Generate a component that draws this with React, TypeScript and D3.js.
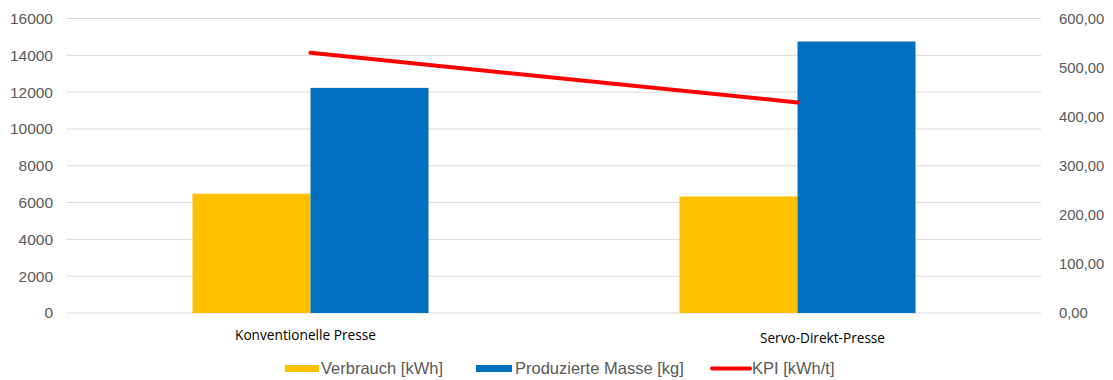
import React from "react";
import * as d3 from "d3";

const categories = ["Konventionelle Presse", "Servo-Direkt-Presse"];
const verbrauch = [6480, 6330];
const masse = [12230, 14750];
const kpi = [530, 429];
const leftTicks = [0, 2000, 4000, 6000, 8000, 10000, 12000, 14000, 16000];
const rightTicks = [0, 100, 200, 300, 400, 500, 600];
const seriesNames = ["Verbrauch [kWh]", "Produzierte Masse [kg]", "KPI [kWh/t]"];

const W = 1113;
const H = 380;
const plot = { left: 67, right: 1041, top: 18.5, bottom: 313 };
const colors = { verbrauch: "#FFC000", masse: "#0070C0", kpi: "#FF0000" };
const labelFont = "'Liberation Sans', Arial, sans-serif";

export default function App() {
  const x0 = d3.scaleBand<string>().domain(categories).range([plot.left, plot.right]).padding(0);
  const bw = x0.bandwidth();
  const gw = bw * (236 / 487);
  const x1 = d3
    .scaleBand<string>()
    .domain(["v", "m"])
    .range([bw / 2 - gw / 2, bw / 2 + gw / 2])
    .padding(0);
  const y = d3.scaleLinear().domain([0, 16000]).range([plot.bottom, plot.top]);
  const y2 = d3.scaleLinear().domain([0, 600]).range([plot.bottom, plot.top]);
  const fmt2 = (v: number) => d3.format(".2f")(v).replace(".", ",");

  const line = d3
    .line<number>()
    .x((_, i) => (x0(categories[i]) as number) + bw / 2)
    .y((d) => y2(d));

  const catLabelPos = [
    { cx: 305.5, y: 340, w: 141 },
    { cx: 822.5, y: 343, w: 125 },
  ];

  const legendY = 368.5;
  const legendItems = [
    { name: seriesNames[0], type: "rect", color: colors.verbrauch, x0: 285, x1: 319, tx: 321 },
    { name: seriesNames[1], type: "rect", color: colors.masse, x0: 476, x1: 512, tx: 515 },
    { name: seriesNames[2], type: "line", color: colors.kpi, x0: 712, x1: 750, tx: 752 },
  ];

  return (
    <svg width={W} height={H} style={{ position: "absolute", left: 0, top: 0, background: "#fff" }}>
      <rect x={0} y={0} width={W} height={H} fill="#fff" />
      {leftTicks.map((t) => (
        <g key={"g" + t}>
          <line x1={plot.left} x2={plot.right} y1={y(t)} y2={y(t)} stroke="#D9D9D9" strokeWidth={1} />
          <text
            x={53}
            y={y(t)}
            dy="0.35em"
            textAnchor="end"
            fontFamily={labelFont}
            fontSize={15.5}
            fill="#595959"
          >
            {t}
          </text>
        </g>
      ))}
      {rightTicks.map((t) => (
        <text
          key={"r" + t}
          x={1059}
          y={y2(t)}
          dy="0.35em"
          textAnchor="start"
          fontFamily={labelFont}
          fontSize={14.8}
          fill="#595959"
        >
          {fmt2(t)}
        </text>
      ))}
      {categories.map((c, i) => {
        const gx = x0(c) as number;
        return (
          <g key={c}>
            <rect
              x={gx + (x1("v") as number)}
              y={y(verbrauch[i])}
              width={x1.bandwidth()}
              height={y(0) - y(verbrauch[i])}
              fill={colors.verbrauch}
            />
            <rect
              x={gx + (x1("m") as number)}
              y={y(masse[i])}
              width={x1.bandwidth()}
              height={y(0) - y(masse[i])}
              fill={colors.masse}
            />
          </g>
        );
      })}
      <path d={line(kpi) as string} fill="none" stroke={colors.kpi} strokeWidth={4} strokeLinecap="round" />
      {categories.map((c, i) => (
        <text
          key={"c" + c}
          x={catLabelPos[i].cx}
          y={catLabelPos[i].y}
          textAnchor="middle"
          fontFamily="'Open Sans', Lato, sans-serif"
          fontSize={14}
          fill="#000"
          textLength={catLabelPos[i].w}
          lengthAdjust="spacingAndGlyphs"
        >
          {c}
        </text>
      ))}
      {legendItems.map((it) => (
        <g key={it.name}>
          {it.type === "rect" ? (
            <rect x={it.x0} y={legendY - 3.5} width={it.x1 - it.x0} height={7} fill={it.color} />
          ) : (
            <line
              x1={it.x0}
              x2={it.x1}
              y1={legendY}
              y2={legendY}
              stroke={it.color}
              strokeWidth={4}
              strokeLinecap="round"
            />
          )}
          <text x={it.tx} y={374} fontFamily={labelFont} fontSize={16.5} fill="#595959">
            {it.name}
          </text>
        </g>
      ))}
    </svg>
  );
}
